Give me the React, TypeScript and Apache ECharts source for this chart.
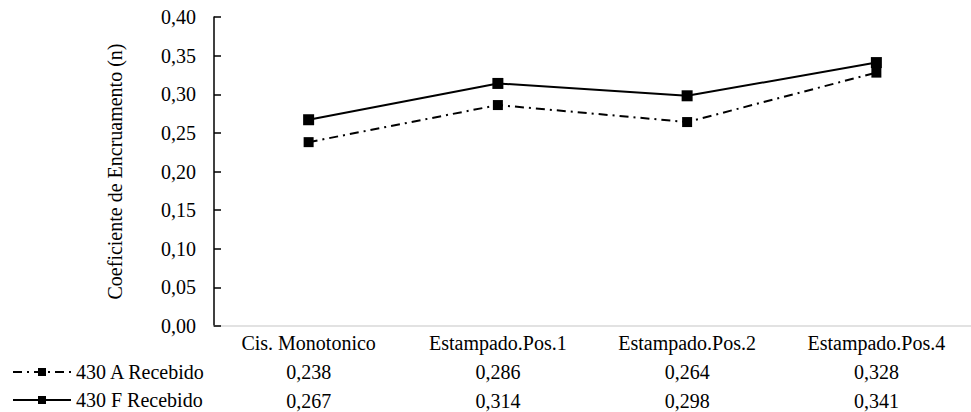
import React, { useEffect, useRef } from "react";
import * as echarts from "echarts";

const categories = ["Cis. Monotonico", "Estampado.Pos.1", "Estampado.Pos.2", "Estampado.Pos.4"];
const seriesNames = ["430 A Recebido", "430 F Recebido"];
const valuesA = [0.238, 0.286, 0.264, 0.328];
const valuesF = [0.267, 0.314, 0.298, 0.341];
const yTicks = [0, 0.05, 0.1, 0.15, 0.2, 0.25, 0.3, 0.35, 0.4];

const FONT = "Liberation Serif";
const FS = 20;
const fmt = (v: number, d: number) => v.toFixed(d).replace(".", ",");

export default function App() {
  const ref = useRef<HTMLDivElement>(null);

  useEffect(() => {
    if (!ref.current) return;
    const chart = echarts.init(ref.current, undefined, { renderer: "svg" });
    chart.setOption({
      animation: false,
      backgroundColor: "#ffffff",
      textStyle: { fontFamily: FONT, color: "#000" },
      grid: { left: 214, top: 17, width: 772, height: 309, containLabel: false },
      legend: {
        orient: "vertical",
        left: 12,
        top: 362,
        padding: 0,
        itemWidth: 58,
        itemHeight: 10,
        itemGap: 8,
        textStyle: { fontFamily: FONT, fontSize: FS, color: "#000", lineHeight: 20 },
        data: seriesNames,
      },
      xAxis: {
        type: "category",
        data: categories,
        boundaryGap: true,
        axisLine: { lineStyle: { color: "#d9d9d9", width: 1.5 } },
        axisTick: { show: false },
        axisLabel: {
          margin: 2,
          interval: 0,
          fontFamily: FONT,
          formatter: (value: string) => {
            const i = categories.indexOf(value);
            return `{c|${value}}\n{v|${fmt(valuesA[i], 3)}}\n{v|${fmt(valuesF[i], 3)}}`;
          },
          rich: {
            c: { fontFamily: FONT, fontSize: FS, color: "#000", lineHeight: 29 },
            v: { fontFamily: FONT, fontSize: FS, color: "#000", lineHeight: 29 },
          },
        },
      },
      yAxis: {
        type: "value",
        min: yTicks[0],
        max: yTicks[yTicks.length - 1],
        interval: 0.05,
        name: "Coeficiente de Encruamento (n)",
        nameLocation: "middle",
        nameGap: 89,
        nameTextStyle: { fontFamily: FONT, fontSize: FS, color: "#000" },
        axisLine: { show: true, lineStyle: { color: "#000", width: 1.5 } },
        axisTick: { show: true, inside: true, length: 7, lineStyle: { color: "#000", width: 1.5 } },
        splitLine: { show: false },
        axisLabel: {
          margin: 18,
          fontFamily: FONT,
          fontSize: FS,
          color: "#000",
          formatter: (v: number) => fmt(v, 2),
        },
      },
      series: [
        {
          name: seriesNames[0],
          type: "line",
          data: valuesA,
          symbol: "rect",
          symbolSize: 10,
          itemStyle: { color: "#000" },
          lineStyle: { color: "#000", width: 2, type: [9, 5, 2, 5] },
        },
        {
          name: seriesNames[1],
          type: "line",
          data: valuesF,
          symbol: "rect",
          symbolSize: 11,
          itemStyle: { color: "#000" },
          lineStyle: { color: "#000", width: 2, type: "solid" },
        },
      ],
    });
    return () => chart.dispose();
  }, []);

  return (
    <div
      ref={ref}
      style={{ position: "fixed", left: 0, top: 0, width: 971, height: 412, background: "#fff" }}
    />
  );
}
